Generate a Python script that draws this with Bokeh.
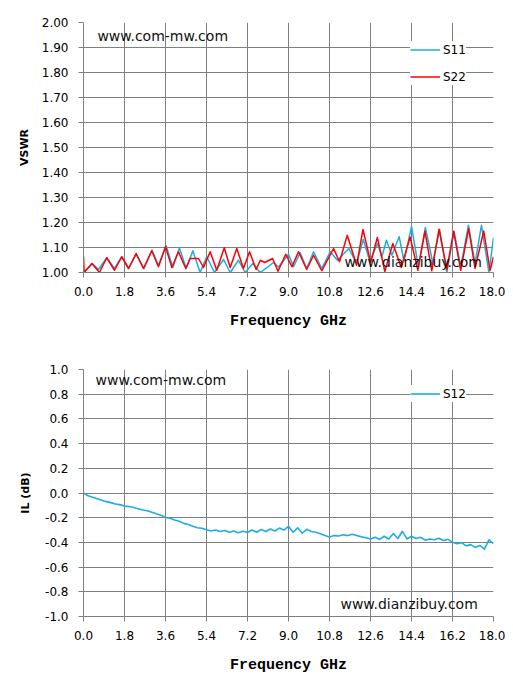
from bokeh.plotting import figure
from bokeh.models import FixedTicker, Legend, LegendItem, Label, Range1d
from bokeh.layouts import column
from bokeh.embed import file_html
from bokeh.resources import INLINE

# ---------------- data ----------------
x_ticks = [0.0, 1.8, 3.6, 5.4, 7.2, 9.0, 10.8, 12.6, 14.4, 16.2, 18.0]
x_tick_labels = ["0.0", "1.8", "3.6", "5.4", "7.2", "9.0", "10.8", "12.6", "14.4", "16.2", "18.0"]
vswr_ticks = [1.0, 1.1, 1.2, 1.3, 1.4, 1.5, 1.6, 1.7, 1.8, 1.9, 2.0]
vswr_tick_labels = ["1.00", "1.10", "1.20", "1.30", "1.40", "1.50", "1.60", "1.70", "1.80", "1.90", "2.00"]
il_ticks = [-1.0, -0.8, -0.6, -0.4, -0.2, 0.0, 0.2, 0.4, 0.6, 0.8, 1.0]
il_tick_labels = ["-1.0", "-0.8", "-0.6", "-0.4", "-0.2", "0.0", "0.2", "0.4", "0.6", "0.8", "1.0"]

s11_f = [0.0, 0.39, 0.66, 1.02, 1.36, 1.68, 1.98, 2.31, 2.66, 3.00, 3.29, 3.63, 3.92, 4.21,
         4.51, 4.80, 5.12, 5.41, 5.75, 6.15, 6.44, 6.80, 7.10, 7.43, 7.76, 8.34, 8.56, 9.00,
         9.22, 9.51, 9.80, 10.10, 10.46, 10.83, 11.15, 11.65, 11.99, 12.28, 12.57, 12.91,
         13.10, 13.30, 13.54, 13.86, 14.07, 14.40, 14.70, 15.01, 15.34, 15.63, 15.95, 16.27,
         16.56, 16.90, 17.19, 17.47, 17.80, 18.00]
s11_v = [1.000, 1.036, 1.012, 1.059, 1.016, 1.063, 1.016, 1.073, 1.016, 1.089, 1.029, 1.107,
         1.020, 1.099, 1.016, 1.087, 1.000, 1.063, 1.000, 1.052, 1.000, 1.049, 1.000, 1.036,
         1.000, 1.040, 1.022, 1.073, 1.023, 1.079, 1.016, 1.083, 1.016, 1.083, 1.049, 1.096,
         1.036, 1.132, 1.045, 1.116, 1.063, 1.129, 1.069, 1.143, 1.045, 1.184, 1.024, 1.180,
         1.036, 1.172, 1.000, 1.163, 1.023, 1.189, 1.036, 1.189, 1.000, 1.140]

s22_f = [0.0, 0.03, 0.37, 0.70, 1.02, 1.36, 1.68, 1.98, 2.31, 2.63, 3.00, 3.29, 3.60, 3.88,
         4.17, 4.49, 4.68, 5.05, 5.27, 5.56, 5.85, 6.18, 6.44, 6.73, 7.02, 7.29, 7.58, 7.76,
         7.95, 8.15, 8.30, 8.54, 8.88, 9.15, 9.44, 9.80, 10.10, 10.46, 10.98, 11.24, 11.58,
         11.99, 12.27, 12.61, 12.90, 13.23, 13.58, 13.95, 14.34, 14.68, 14.99, 15.29, 15.61,
         15.95, 16.25, 16.56, 16.91, 17.19, 17.57, 17.85, 18.00]
s22_v = [1.065, 1.000, 1.036, 1.000, 1.059, 1.009, 1.063, 1.016, 1.076, 1.016, 1.087, 1.023,
         1.103, 1.020, 1.083, 1.016, 1.056, 1.056, 1.020, 1.083, 1.009, 1.099, 1.020, 1.096,
         1.016, 1.083, 1.012, 1.049, 1.040, 1.049, 1.056, 1.005, 1.073, 1.023, 1.083, 1.012,
         1.069, 1.007, 1.096, 1.043, 1.149, 1.029, 1.172, 1.040, 1.140, 1.004, 1.116, 1.020,
         1.142, 1.009, 1.165, 1.007, 1.173, 1.012, 1.165, 1.009, 1.176, 1.016, 1.166, 1.009,
         1.063]

s12_f = [0.0, 0.2, 0.4, 0.6, 0.8, 1.0, 1.2, 1.4, 1.6, 1.8, 2.0, 2.2, 2.4, 2.6, 2.8, 3.0,
         3.2, 3.4, 3.6, 3.8, 4.0, 4.2, 4.4, 4.6, 4.8, 5.0, 5.2, 5.4, 5.6, 5.8, 6.0, 6.2,
         6.4, 6.6, 6.8, 7.0, 7.2, 7.4, 7.6, 7.8, 8.0, 8.2, 8.4, 8.6, 8.8, 9.0, 9.2, 9.4,
         9.6, 9.8, 10.0, 10.2, 10.4, 10.6, 10.8, 11.0, 11.2, 11.4, 11.6, 11.8, 12.0, 12.2,
         12.4, 12.6, 12.8, 13.0, 13.2, 13.4, 13.6, 13.8, 14.0, 14.2, 14.4, 14.6, 14.8, 15.0,
         15.2, 15.4, 15.6, 15.8, 16.0, 16.2, 16.4, 16.6, 16.8, 17.0, 17.2, 17.4, 17.6, 17.8,
         18.0]
s12_v = [0.000, -0.022, -0.035, -0.046, -0.058, -0.070, -0.078, -0.089, -0.094, -0.105,
         -0.110, -0.118, -0.127, -0.138, -0.144, -0.156, -0.168, -0.180, -0.198, -0.205,
         -0.218, -0.228, -0.246, -0.255, -0.270, -0.282, -0.286, -0.297, -0.307, -0.300,
         -0.312, -0.304, -0.318, -0.308, -0.322, -0.310, -0.320, -0.300, -0.318, -0.296,
         -0.312, -0.292, -0.308, -0.284, -0.300, -0.270, -0.318, -0.282, -0.326, -0.294,
         -0.312, -0.318, -0.330, -0.345, -0.356, -0.345, -0.348, -0.338, -0.345, -0.334,
         -0.345, -0.355, -0.362, -0.372, -0.358, -0.376, -0.350, -0.372, -0.328, -0.368,
         -0.310, -0.372, -0.350, -0.368, -0.358, -0.382, -0.372, -0.378, -0.366, -0.385,
         -0.375, -0.398, -0.410, -0.402, -0.428, -0.418, -0.440, -0.425, -0.455, -0.380,
         -0.410]

# ---------------- style ----------------
GRID = "#7F7F7F"
BLUE = "#1CADE4"
RED = "#FF0000"
TICK_FONT = "DejaVu Sans"


def style(p, yticks, ylabels, ylabel, label_standoff):
    p.xaxis.ticker = FixedTicker(ticks=x_ticks)
    p.xaxis.major_label_overrides = dict(zip(x_ticks, x_tick_labels))
    p.yaxis.ticker = FixedTicker(ticks=yticks)
    p.yaxis.major_label_overrides = dict(zip(yticks, ylabels))
    p.xgrid.ticker = FixedTicker(ticks=x_ticks)
    p.ygrid.ticker = FixedTicker(ticks=yticks)
    for g in (p.xgrid, p.ygrid):
        g.grid_line_color = GRID
        g.grid_line_width = 1
    for ax in (p.xaxis, p.yaxis):
        ax.axis_line_color = GRID
        ax.major_tick_line_color = GRID
        ax.minor_tick_line_color = None
        ax.major_tick_in = 0
        ax.major_tick_out = 5
        ax.major_label_text_font = TICK_FONT
        ax.major_label_text_font_size = "12px"
        ax.major_label_text_color = "#000000"
    p.xaxis.major_label_standoff = 9
    p.yaxis.major_label_standoff = 10
    p.xaxis.axis_label = "Frequency GHz"
    p.xaxis.axis_label_text_font = "Liberation Mono"
    p.xaxis.axis_label_text_font_style = "bold"
    p.xaxis.axis_label_text_font_size = "15px"
    p.xaxis.axis_label_text_color = "#000000"
    p.xaxis.axis_label_standoff = 14
    p.yaxis.axis_label = ylabel
    p.yaxis.axis_label_text_font = TICK_FONT
    p.yaxis.axis_label_text_font_style = "bold"
    p.yaxis.axis_label_text_font_size = "11px"
    p.yaxis.axis_label_text_color = "#000000"
    p.yaxis.axis_label_standoff = label_standoff
    p.outline_line_color = None
    p.background_fill_color = "white"
    p.border_fill_color = "white"


def watermark(p, x, y, text):
    p.add_layout(Label(x=x, y=y, text=text, text_font=TICK_FONT, text_font_size="14px",
                       text_color="#111111", text_baseline="middle", text_align="left"))


def make_legend(items, loc):
    return Legend(items=items, location=loc, padding=8, spacing=10, margin=0,
                  glyph_width=30, glyph_height=17, label_height=17, label_standoff=3,
                  label_text_font=TICK_FONT, label_text_font_size="12px",
                  label_text_color="#000000", background_fill_color="white",
                  background_fill_alpha=1.0, border_line_color=None)


# ---------------- top: VSWR ----------------
p1 = figure(frame_width=410, frame_height=250, output_backend="svg", toolbar_location=None,
            x_range=Range1d(0, 18), y_range=Range1d(1.0, 2.0),
            min_border_left=83, min_border_right=12, min_border_top=22, min_border_bottom=71)
style(p1, vswr_ticks, vswr_tick_labels, "VSWR", 8)
r11 = p1.line(s11_f, s11_v, line_color=BLUE, line_width=1.5, line_join="round")
r22 = p1.line(s22_f, s22_v, line_color=RED, line_width=1.5, line_join="round")
watermark(p1, 0.61, 1.948, "www.com-mw.com")
watermark(p1, 11.46, 1.044, "www.dianzibuy.com")
p1.add_layout(make_legend([LegendItem(label="S11", renderers=[r11]),
                           LegendItem(label="S22", renderers=[r22])], (327, 187)))

# ---------------- bottom: IL ----------------
p2 = figure(frame_width=410, frame_height=247, output_backend="svg", toolbar_location=None,
            x_range=Range1d(0, 18), y_range=Range1d(-1.0, 1.0),
            min_border_left=83, min_border_right=12, min_border_top=26, min_border_bottom=70)
style(p2, il_ticks, il_tick_labels, "IL (dB)", 10)
r12 = p2.line(s12_f, s12_v, line_color=BLUE, line_width=1.6, line_join="round")
watermark(p2, 0.53, 0.911, "www.com-mw.com")
watermark(p2, 11.28, -0.897, "www.dianzibuy.com")
p2.add_layout(make_legend([LegendItem(label="S12", renderers=[r12])], (327, 214)))

layout = column(p1, p2, spacing=0)
open("out.html", "w").write(file_html(layout, INLINE))
